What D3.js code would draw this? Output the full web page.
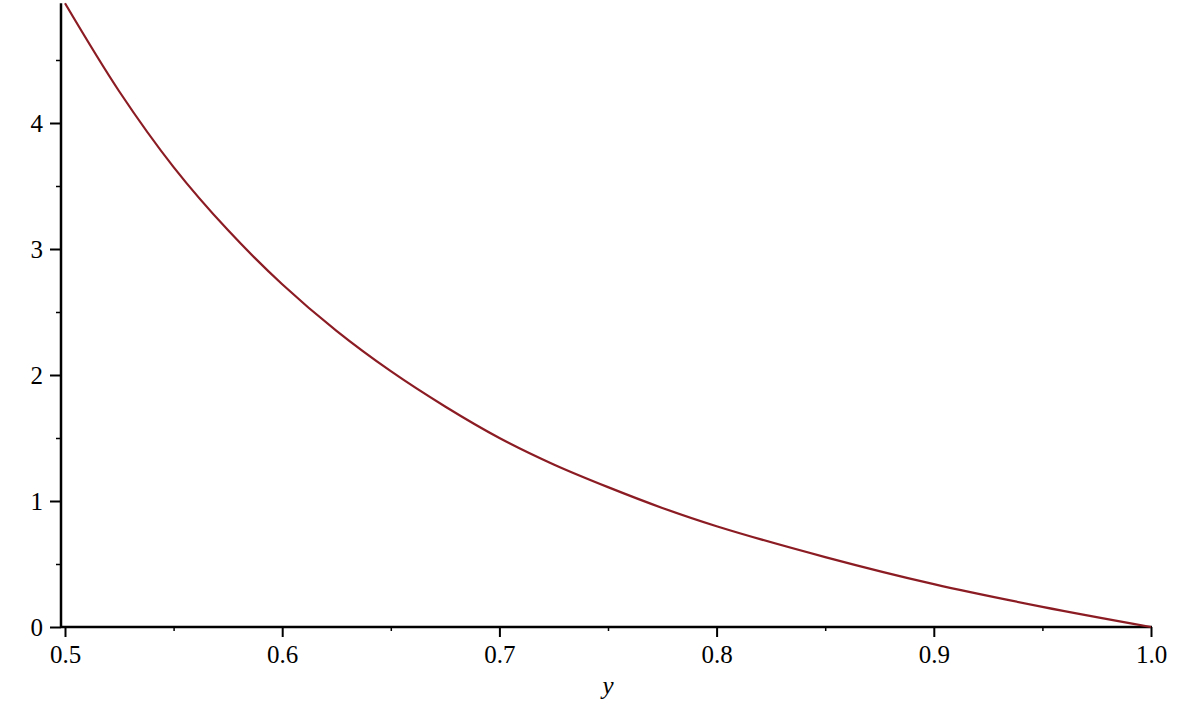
<!DOCTYPE html>
<html><head><meta charset="utf-8">
<script src="https://cdn.jsdelivr.net/npm/d3@7"></script>
<style>
html,body{margin:0;padding:0;background:#fff;}
svg text{font-family:"Liberation Serif";fill:#000;}
</style></head>
<body><svg id="c" width="1192" height="722"></svg>
<script>
// Values
const xValues = [0.5, 0.525, 0.55, 0.575, 0.6, 0.625, 0.65, 0.675, 0.7, 0.725, 0.75, 0.775, 0.8, 0.85, 0.9, 0.95, 1.0];
const yValues = [4.95, 4.25, 3.65, 3.15, 2.72, 2.35, 2.03, 1.75, 1.50, 1.29, 1.11, 0.945, 0.80, 0.555, 0.34, 0.16, 0.0];
const xMajorTicks = [0.5, 0.6, 0.7, 0.8, 0.9, 1.0];
const xMinorTicks = [0.55, 0.65, 0.75, 0.85, 0.95];
const yMajorTicks = [0, 1, 2, 3, 4];
const yMinorTicks = [0.5, 1.5, 2.5, 3.5, 4.5];
const xTickLabels = ["0.5", "0.6", "0.7", "0.8", "0.9", "1.0"];
const yTickLabels = ["0", "1", "2", "3", "4"];
const xAxisTitle = "y";

const svg = d3.select("#c");
const x = d3.scaleLinear().domain([0.5, 1.0]).range([65, 1151]);
const y = d3.scaleLinear().domain([0, 4.95]).range([627, 3.3]);

const axisX0 = x(0.5) - 4;

// x axis ticks
const gx = svg.append("g").attr("transform", `translate(0,${y(0)})`);
gx.call(d3.axisBottom(x).tickValues(xMajorTicks).tickSize(10).tickPadding(8)
  .tickFormat((d,i) => xTickLabels[i]));
gx.select(".domain").remove();
gx.selectAll(".tick line").attr("stroke", "#000").attr("stroke-width", 2);
gx.selectAll(".tick text").attr("font-size", 25);
const gxm = svg.append("g").attr("transform", `translate(0,${y(0)})`);
gxm.call(d3.axisBottom(x).tickValues(xMinorTicks).tickSize(4).tickFormat(""));
gxm.select(".domain").remove();
gxm.selectAll(".tick line").attr("stroke", "#000").attr("stroke-width", 1.5);

// y axis ticks
const gy = svg.append("g").attr("transform", `translate(${axisX0},0)`);
gy.call(d3.axisLeft(y).tickValues(yMajorTicks).tickSize(11).tickPadding(7)
  .tickFormat((d,i) => yTickLabels[i]));
gy.select(".domain").remove();
gy.selectAll(".tick line").attr("stroke", "#000").attr("stroke-width", 2);
gy.selectAll(".tick text").attr("font-size", 25);
const gym = svg.append("g").attr("transform", `translate(${axisX0},0)`);
gym.call(d3.axisLeft(y).tickValues(yMinorTicks).tickSize(5).tickFormat(""));
gym.select(".domain").remove();
gym.selectAll(".tick line").attr("stroke", "#000").attr("stroke-width", 1.5);

// axis lines
svg.append("line").attr("x1", axisX0).attr("x2", x(1.0) + 1).attr("y1", y(0)).attr("y2", y(0))
  .attr("stroke", "#000").attr("stroke-width", 2.5);
svg.append("line").attr("x1", axisX0).attr("x2", axisX0).attr("y1", y(4.95)).attr("y2", y(0))
  .attr("stroke", "#000").attr("stroke-width", 2.5);

// axis title
svg.append("text").attr("x", x(0.75)).attr("y", 694).attr("text-anchor", "middle")
  .attr("font-size", 25).attr("font-style", "italic").text(xAxisTitle);

// curve
const pts = xValues.map((v, i) => [v, yValues[i]]);
svg.append("path").datum(pts)
  .attr("fill", "none").attr("stroke", "#8C1C24").attr("stroke-width", 2.2)
  .attr("d", d3.line().x(d => x(d[0])).y(d => y(d[1])).curve(d3.curveCatmullRom.alpha(0.5)));
</script></body></html>
